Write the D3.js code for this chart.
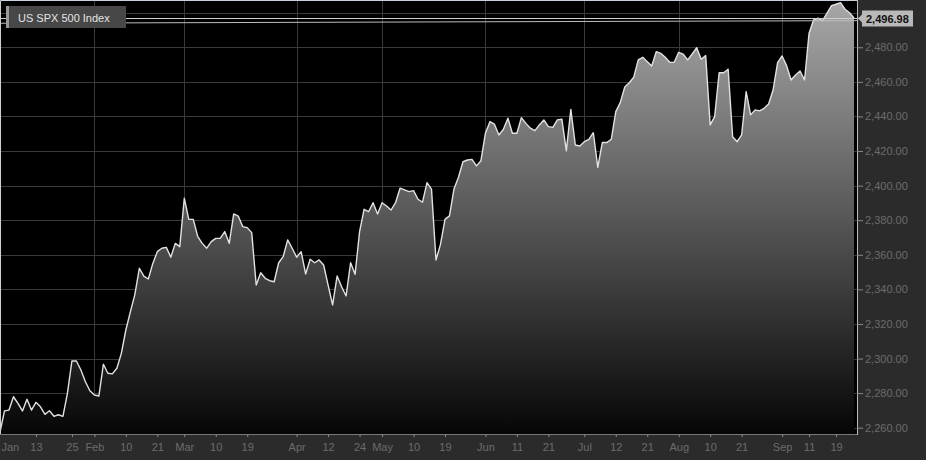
<!DOCTYPE html>
<html>
<head>
<meta charset="utf-8">
<style>
body { margin:0; background:#2b2b2b; }
svg { display:block; font-family:"Liberation Sans", Arial, sans-serif; }
</style>
<script src="https://cdn.jsdelivr.net/npm/d3@7"></script>
</head>
<body>
<div id="chart"></div>
<script>

// closing values, one per trading day
var closes = [
  2257.5, 2269.7, 2270.2, 2277.9, 2274.1, 2269.7, 2276.4, 2270.2, 2274.7, 2272.1,
  2267.7, 2269.8, 2266.6, 2267.5, 2266.6, 2279.9, 2298.6, 2298.6, 2293.4, 2286.6,
  2281.4, 2278.9, 2278.3, 2296.7, 2291.5, 2291.1, 2294.4, 2303.0, 2316.5, 2327.0,
  2337.0, 2352.2, 2347.7, 2346.0, 2355.0, 2361.8, 2363.8, 2364.3, 2358.6, 2366.6,
  2364.7, 2392.7, 2380.5, 2380.5, 2370.5, 2366.6, 2363.8, 2367.6, 2369.5, 2369.5,
  2373.4, 2366.6, 2383.6, 2382.4, 2376.3, 2375.7, 2372.8, 2342.5, 2349.6, 2346.4,
  2345.0, 2344.4, 2355.4, 2358.9, 2368.6, 2363.8, 2358.6, 2361.8, 2348.9, 2357.4,
  2355.4, 2357.0, 2354.1, 2342.5, 2331.0, 2347.7, 2341.5, 2336.2, 2355.4, 2348.7,
  2373.4, 2386.3, 2384.9, 2390.1, 2383.6, 2390.1, 2388.2, 2385.9, 2390.1, 2398.5,
  2397.5, 2396.5, 2397.1, 2392.1, 2390.4, 2401.7, 2398.0, 2357.0, 2366.0, 2380.5,
  2382.5, 2398.0, 2404.8, 2413.8, 2414.8, 2415.2, 2411.4, 2414.4, 2430.3, 2437.0,
  2435.5, 2429.3, 2432.6, 2439.0, 2430.3, 2430.3, 2439.3, 2436.0, 2433.2, 2431.8,
  2435.1, 2438.0, 2434.1, 2433.7, 2438.0, 2438.4, 2420.2, 2444.1, 2423.5, 2422.9,
  2425.4, 2426.8, 2430.6, 2410.6, 2424.9, 2424.9, 2426.8, 2442.8, 2448.0, 2457.0,
  2459.5, 2462.7, 2472.7, 2474.2, 2471.7, 2469.2, 2477.5, 2476.5, 2474.2, 2471.3,
  2471.3, 2477.1, 2476.0, 2472.7, 2476.1, 2479.8, 2473.1, 2475.2, 2435.1, 2439.9,
  2465.3, 2465.3, 2467.3, 2428.3, 2425.4, 2429.3, 2454.3, 2440.9, 2443.8, 2443.2,
  2444.7, 2447.2, 2455.3, 2471.1, 2475.0, 2469.4, 2461.1, 2464.0, 2466.3, 2461.1,
  2488.1, 2495.8, 2496.8, 2495.4, 2499.7, 2504.1, 2504.9, 2505.8, 2502.0, 2500.0,
  2496.98
]

// x axis ticks (index of the trading day) and their labels
var tickIdx    = [0, 8, 16, 21, 28, 35, 41, 48, 55, 66, 73, 80, 85, 92, 99, 108, 115, 122, 130, 137, 144, 151, 158, 165, 174, 180, 186]
var tickLabels = ["Jan", "13", "25", "Feb", "10", "21", "Mar", "10", "19", "Apr", "12", "24", "May", "10", "19", "Jun", "11", "21", "Jul", "12", "21", "Aug", "10", "21", "Sep", "11", "19"]
var monthIdx   = [21, 41, 66, 85, 108, 130, 151, 174]

var yTicks  = [2260, 2280, 2300, 2320, 2340, 2360, 2380, 2400, 2420, 2440, 2460, 2480]
var yGrid   = [2260, 2280, 2300, 2320, 2340, 2360, 2380, 2400, 2420, 2440, 2460, 2480, 2500]
var trendEnds = [2493.9, 2495.4]

var seriesName = "US SPX 500 Index"

var width = 926
var height = 460
var plotR = 857
var plotB = 434

var svg = d3.select("#chart").append("svg")
    .attr("width", width)
    .attr("height", height);

svg.append("rect")
    .attr("width", width).attr("height", height)
    .attr("fill", "#2b2b2b");

svg.append("rect")
    .attr("x", 1).attr("y", 1)
    .attr("width", plotR - 1).attr("height", plotB - 1)
    .attr("fill", "#000");

var defs = svg.append("defs");
defs.append("clipPath").attr("id", "clip")
  .append("rect")
    .attr("x", 1).attr("y", 1)
    .attr("width", plotR - 1).attr("height", plotB - 1);

var grad = defs.append("linearGradient")
    .attr("id", "fillGrad")
    .attr("gradientUnits", "userSpaceOnUse")
    .attr("x1", 0).attr("y1", 0).attr("x2", 0).attr("y2", plotB);
grad.append("stop").attr("offset", 0).attr("stop-color", "#a8a8a8");
grad.append("stop").attr("offset", 1).attr("stop-color", "#060606");

var x = d3.scaleLinear()
    .domain([0, closes.length - 1])
    .range([0, 854]);

var y = d3.scaleLinear()
    .domain([2260, 2500])
    .range([427.7, 12.7]);

// grid
var grid = svg.append("g").attr("clip-path", "url(#clip)");
grid.selectAll(".hg").data(yGrid).enter().append("line")
    .attr("x1", 0).attr("x2", plotR)
    .attr("y1", function(d) { return Math.round(y(d)) + 0.5 })
    .attr("y2", function(d) { return Math.round(y(d)) + 0.5 })
    .attr("stroke", "#3a3a3a");
grid.selectAll(".vg").data(monthIdx).enter().append("line")
    .attr("y1", 0).attr("y2", plotB)
    .attr("x1", function(d) { return Math.round(x(d)) + 0.5 })
    .attr("x2", function(d) { return Math.round(x(d)) + 0.5 })
    .attr("stroke", "#3a3a3a");

var area = d3.area()
    .x(function(d, i) { return x(i) })
    .y0(plotB)
    .y1(function(d) { return y(d) });

var line = d3.line()
    .x(function(d, i) { return x(i) })
    .y(function(d) { return y(d) });

var plot = svg.append("g").attr("clip-path", "url(#clip)");
plot.append("path")
    .datum(closes)
    .attr("d", area)
    .attr("fill", "url(#fillGrad)");
plot.append("path")
    .datum(closes)
    .attr("d", line)
    .attr("fill", "none")
    .attr("stroke", "#e2e2e2")
    .attr("stroke-width", 1.4)
    .attr("stroke-linejoin", "round");

// sloped reference line and last price line
plot.append("line")
    .attr("x1", 0).attr("x2", plotR)
    .attr("y1", y(trendEnds[0])).attr("y2", y(trendEnds[1]))
    .attr("stroke", "#bdbdbd");

var last = closes[closes.length - 1];
var ly = Math.round(y(last)) + 0.5;
svg.append("line")
    .attr("x1", 0).attr("x2", 860)
    .attr("y1", ly).attr("y2", ly)
    .attr("stroke", "#cfcfcf");

// axes
var xAxis = svg.append("g")
    .attr("transform", "translate(0," + plotB + ")")
    .call(d3.axisBottom(x)
        .tickValues(tickIdx)
        .tickFormat(function(d, i) { return tickLabels[i] })
        .tickSize(3)
        .tickPadding(6));
xAxis.select(".domain").attr("stroke", "#777").attr("d", "M0,0.5H" + plotR);
xAxis.selectAll(".tick line").attr("stroke", "#8a8a8a");
xAxis.selectAll(".tick text")
    .attr("fill", "#6b6b6b")
    .style("font-size", "11px")
    .style("font-family", "'Liberation Sans', Arial, sans-serif");
xAxis.selectAll(".tick").filter(function(d) { return d === 0 })
    .select("text").attr("text-anchor", "start").attr("x", 1);
xAxis.selectAll(".tick").filter(function(d) { return d === 0 })
    .select("line").remove();

var yAxis = svg.append("g")
    .attr("transform", "translate(" + plotR + ",0)")
    .call(d3.axisRight(y)
        .tickValues(yTicks)
        .tickFormat(d3.format(",.2f"))
        .tickSize(6)
        .tickPadding(2));
yAxis.select(".domain").attr("stroke", "#bdbdbd").attr("d", "M0.5,0V" + (plotB + 1));
yAxis.selectAll(".tick line").attr("stroke", "#8a8a8a");
yAxis.selectAll(".tick text")
    .attr("fill", "#6b6b6b")
    .style("font-size", "11px")
    .style("font-family", "'Liberation Sans', Arial, sans-serif");

// light border top and left
svg.append("path")
    .attr("d", "M0.5," + plotB + "V0.5H" + plotR)
    .attr("fill", "none")
    .attr("stroke", "#c9d1dc");

// last price tag
var tag = svg.append("g");
tag.append("path")
    .attr("d", "M858," + ly + "L863," + (ly - 5) + "V" + (ly + 5) + "Z")
    .attr("fill", "#b9b9b9");
tag.append("rect")
    .attr("x", 862).attr("y", ly - 8)
    .attr("width", 51).attr("height", 16)
    .attr("fill", "#b9b9b9");
tag.append("text")
    .attr("x", 866).attr("y", ly + 4)
    .attr("fill", "#111")
    .attr("font-size", "11px")
    .attr("font-weight", "bold")
    .text(d3.format(",.2f")(last));

// legend
var leg = svg.append("g");
leg.append("rect")
    .attr("x", 6).attr("y", 6).attr("width", 120).attr("height", 22)
    .attr("fill", "#474747");
leg.append("rect")
    .attr("x", 6).attr("y", 6).attr("width", 3).attr("height", 22)
    .attr("fill", "#9a9a9a");
leg.append("text")
    .attr("x", 18).attr("y", 22)
    .attr("fill", "#e4e4e4")
    .attr("font-size", "11px")
    .text(seriesName);

</script>
</body>
</html>
